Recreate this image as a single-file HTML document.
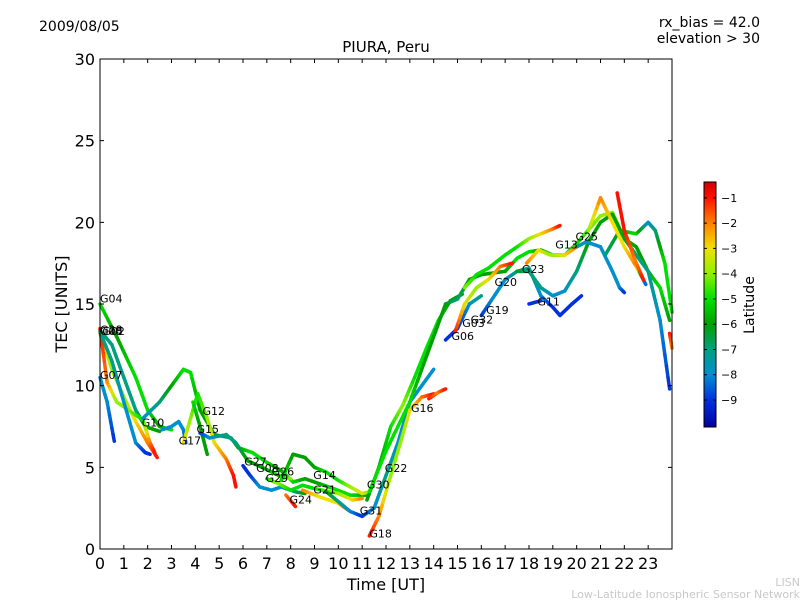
<!DOCTYPE html>
<html><head><meta charset="utf-8"><style>
body{margin:0;background:#fff}
svg{display:block;font-family:"DejaVu Sans","Liberation Sans",sans-serif}
</style></head><body>
<svg id="chart" width="800" height="600" viewBox="0 0 800 600" xmlns="http://www.w3.org/2000/svg">
<defs>
<linearGradient id="cbgrad" x1="0" y1="1" x2="0" y2="0">
<stop offset="0" stop-color="#0000a0"/><stop offset="0.11" stop-color="#0030e0"/><stop offset="0.214" stop-color="#0090d0"/><stop offset="0.317" stop-color="#00a080"/><stop offset="0.42" stop-color="#00a000"/><stop offset="0.523" stop-color="#00e000"/><stop offset="0.626" stop-color="#90f000"/><stop offset="0.73" stop-color="#f0e000"/><stop offset="0.833" stop-color="#ff8000"/><stop offset="0.936" stop-color="#ff1000"/><stop offset="1" stop-color="#d00000"/>
</linearGradient>
</defs>
<text x="39" y="31" font-size="14">2009/08/05</text>
<text x="760" y="27" font-size="14" text-anchor="end">rx_bias = 42.0</text>
<text x="760" y="43" font-size="14" text-anchor="end">elevation &gt; 30</text>
<text x="386" y="52" font-size="15" text-anchor="middle">PIURA, Peru</text>
<text x="386" y="590" font-size="16" text-anchor="middle">Time [UT]</text>
<text x="67" y="304" font-size="16" text-anchor="middle" transform="rotate(-90 67 304)">TEC [UNITS]</text>
<text x="800" y="586" font-size="11" fill="#c8c8c8" text-anchor="end">LISN</text>
<text x="800" y="598" font-size="11" fill="#c8c8c8" text-anchor="end">Low-Latitude Ionospheric Sensor Network</text>
<g id="marks"></g>
<g id="labels"></g>
<rect x="100" y="59" width="572" height="490" fill="none" stroke="#000" stroke-width="1"/>
<g id="axes"></g>
<rect x="704" y="182" width="12" height="245" fill="url(#cbgrad)" stroke="#000" stroke-width="1"/>
<g id="cbticks"></g>
<text x="754" y="305" font-size="14" text-anchor="middle" transform="rotate(-90 754 305)">Latitude</text>
</svg>
<script>
const xTicks=[0,1,2,3,4,5,6,7,8,9,10,11,12,13,14,15,16,17,18,19,20,21,22,23];
const yTicks=[0,5,10,15,20,25,30];
const cbTicks=[-1,-2,-3,-4,-5,-6,-7,-8,-9];
// tracks: [time, tec, latitude]
const trkG04=[[0,15.0,-5],[0.7,13.0,-6],[1.5,10.5,-5],[2.0,8.5,-5],[2.5,7.5,-6],[3.0,7.3,-5]];
const trkG28=[[0,13.4,-7],[0.5,12.5,-7],[1,10.5,-7],[1.5,8.5,-7],[1.9,7.5,-6],[2.5,7.2,-6]];
const trkYel=[[0,13.2,-2],[0.5,11,-4],[1,9.3,-4],[1.5,7.8,-3],[2,6.5,-2],[2.4,5.6,-1]];
const trkRed=[[0,13.5,-1],[0.3,10.2,-2],[0.7,9.0,-4],[1.2,8.5,-4],[1.8,7.9,-5],[2.1,6.5,-2],[2.3,5.9,-1]];
const trkG07=[[0,10.5,-8],[0.3,9,-8],[0.6,6.6,-9]];
const trkTeal=[[0,13.3,-7],[0.5,11.5,-7],[1,9,-8],[1.5,6.5,-8],[1.9,5.9,-9],[2.1,5.8,-9]];
const trkG10=[[1.8,8.0,-8],[2.5,9,-7],[3.0,10,-6],[3.5,11,-5],[3.8,10.8,-5],[4.2,8.5,-6],[4.8,7.0,-6],[5.5,6.8,-7],[5.8,6.2,-6],[6.4,5.9,-5],[7,5.3,-5],[7.6,4.8,-6],[8.1,4.1,-5],[8.6,4.3,-6],[9.2,4.0,-6],[9.8,3.7,-5],[10.5,3.3,-5],[11.2,3.3,-6]];
const trkG17=[[2.6,7.3,-8],[3.0,7.5,-8],[3.3,7.8,-8],[3.5,7.3,-8],[3.6,6.5,-9]];
const trkG12=[[3.5,6.5,-3],[3.8,8.0,-4],[4.1,9.5,-5],[4.5,8,-4],[4.8,6.5,-3],[5.3,5.5,-2],[5.6,4.5,-1],[5.7,3.8,-1]];
const trkG15a=[[3.9,9.0,-5],[4.2,7.5,-6],[4.5,5.8,-6]];
const trkG15=[[4.2,7.1,-9],[4.6,6.8,-8],[5.3,7.0,-7],[5.7,6.5,-7],[6.2,5.4,-6],[6.8,5.0,-6],[7.5,4.5,-5],[8.0,4.3,-4]];
const trkG27=[[6,5.1,-9],[6.3,4.5,-9],[6.7,3.8,-8],[7.2,3.6,-8],[7.6,3.8,-8],[8.2,3.5,-7],[8.6,3.4,-6]];
const trkG26=[[7,4.3,-5],[7.5,4.0,-4],[8.0,3.6,-5],[8.5,3.9,-5],[9,3.7,-5],[10,3.4,-4],[10.6,3.0,-3],[11.0,3.1,-2]];
const trkG14=[[7.6,4.2,-5],[8.1,5.8,-6],[8.6,5.6,-6],[9,5.0,-6],[9.5,4.7,-5],[10,4.2,-5],[10.5,3.8,-4],[11.0,3.4,-3],[11.3,3.5,-4]];
const trkMain=[[11.3,3.5,-5],[12,6,-5],[12.5,7.5,-5],[13,9,-5],[13.5,11,-6],[14,13,-6],[14.5,15,-6],[15,15.3,-7],[15.5,16.5,-6],[16,16.8,-6],[17,17,-6],[17.5,17.8,-5],[18,18.2,-5],[18.5,18.3,-6],[19,18,-5],[19.5,18,-5],[20,18.7,-5],[21,20.4,-4],[21.5,20.6,-4],[22,19,-5],[22.5,18.5,-6],[23,17,-6],[23.5,16,-5],[23.9,14,-6]];
const trkG24=[[7.8,3.3,-2],[8.2,2.6,-1]];
const trkG21=[[8.5,3.6,-2],[9.2,3.2,-3],[10,2.8,-3],[10.5,2.3,-1]];
const trkG31=[[9.5,3.5,-6],[10,2.9,-7],[10.5,2.3,-8],[11,2.0,-9],[11.5,2.5,-8],[12,4.5,-7],[12.5,6.5,-8],[13,9,-8],[13.5,10,-8],[14,11,-8]];
const trkG22=[[11.2,3.0,-6],[11.7,5.0,-6],[12.2,7.5,-5],[12.7,8.8,-4],[13.2,10.5,-5],[13.7,12.3,-5],[14.2,14.0,-5],[14.7,15.2,-6],[15.2,15.6,-6]];
const trkG18=[[11.3,0.8,-1],[11.7,2,-2],[12.2,4.5,-4],[12.7,7,-4],[13,8.5,-3],[13.5,9.3,-2],[14,9.5,-1]];
const trkG06=[[14.5,12.8,-9],[15,13.5,-9],[15.5,15,-8],[16,15.5,-7]];
const trkG20=[[14.9,13.3,-1],[15.3,15,-3],[15.8,16,-4],[16.3,16.5,-3],[16.8,17.3,-2],[17.3,17.5,-1]];
const trkG19=[[16,14.3,-9],[16.5,15.4,-8],[17,16.5,-8],[17.5,17,-7],[18,17.2,-7],[18.5,15.5,-8],[19,14.8,-9],[19.3,14.3,-9],[19.8,15,-9],[20.2,15.5,-9]];
const trkG23=[[17.5,17,-6],[18,17,-7],[18.5,16,-7],[19,15.5,-8],[19.5,15.8,-8],[20,17,-7],[20.5,18.8,-6],[21,20,-6],[21.5,20.5,-6],[22,19,-6],[22.5,18,-7],[23,17,-7],[23.5,14,-8],[23.9,9.8,-9]];
const trkG13=[[15.3,16,-4],[15.8,16.8,-5],[16.3,17.2,-5],[17,18,-5],[17.5,18.5,-5],[18,19,-4],[18.5,19.3,-3],[19,19.6,-2],[19.3,19.8,-1]];
const trkG23b=[[17.9,17.5,-2],[18.4,18.3,-3],[18.9,18.0,-4],[19.5,18.0,-3],[20,18.5,-2]];
const trkG25=[[20,18.5,-7],[20.4,18.8,-8],[21,18.5,-8],[21.5,17,-8],[21.8,16,-8],[22,15.7,-9]];
const trkRed2=[[21.7,21.8,-1],[22,19.5,-1],[22.5,17.5,-2],[22.8,16.5,-1]];
const trkPeak=[[20.5,19.5,-4],[21,21.5,-2],[21.5,20,-3],[22,18.5,-3],[22.5,17.3,-2],[22.9,16.2,-9]];
const trkRight=[[21.2,18,-7],[21.8,19.5,-6],[22.5,19.3,-5],[23,20,-8],[23.3,19.5,-7],[23.7,17.5,-5],[24,14.5,-5]];
const trkEnd=[[23.9,13.2,-1],[24,12.3,-2]];
const trkG11=[[18,15,-9],[18.5,15.2,-9]];
const trkG16=[[13.8,9.2,-1],[14.2,9.6,-2],[14.5,9.8,-1]];
const tracks=[trkG04,trkG28,trkYel,trkRed,trkG07,trkTeal,trkG10,trkG17,trkG12,trkG15a,trkG15,trkG27,trkG26,trkG14,trkG24,trkG21,trkG31,trkG22,trkG18,trkMain,trkG06,trkG20,trkG19,trkG23,trkG13,trkG23b,trkG25,trkRight,trkPeak,trkRed2,trkEnd,trkG11,trkG16];
const labelNames=["G04","G28","G08","G02","G07","G10","G17","G12","G15","G27","G08","G26","G29","G24","G14","G21","G30","G31","G18","G22","G16","G06","G03","G32","G19","G20","G23","G11","G13","G25"];
const labelTimes=[0,0,0,0.1,0,1.75,3.3,4.3,4.05,6.05,6.55,7.2,6.95,7.95,8.95,8.95,11.2,10.9,11.3,11.95,13.05,14.75,15.2,15.55,16.2,16.55,17.7,18.35,19.1,19.95];
const labelTecs=[15.1,13.2,13.1,13.1,10.4,7.5,6.4,8.2,7.1,5.1,4.7,4.5,4.1,2.8,4.3,3.4,3.7,2.1,0.7,4.7,8.4,12.8,13.6,13.8,14.4,16.1,16.9,14.9,18.4,18.9];

const sx=t=>100+t*(572/24);
const sy=v=>549-v*(490/30);
const latMin=-10.07, latMax=-0.37;
const cbY=l=>427-(l-latMin)/(latMax-latMin)*245;
const stopsL=[-10.07,-9,-8,-7,-6,-5,-4,-3,-2,-1,-0.37];
const stopsC=[[0,0,160],[0,48,224],[0,144,208],[0,160,128],[0,160,0],[0,224,0],[144,240,0],[240,224,0],[255,128,0],[255,16,0],[208,0,0]];
function col(l){
  if(l<=stopsL[0])return 'rgb('+stopsC[0]+')';
  for(let i=1;i<stopsL.length;i++){if(l<=stopsL[i]){const f=(l-stopsL[i-1])/(stopsL[i]-stopsL[i-1]);const a=stopsC[i-1],b=stopsC[i];return 'rgb('+a.map((v,k)=>Math.round(v+(b[k]-v)*f)).join(',')+')';}}
  return 'rgb('+stopsC[stopsC.length-1]+')';
}
const NS='http://www.w3.org/2000/svg';
const marks=document.getElementById('marks');
tracks.forEach((tr,ti)=>{
  const g=document.createElementNS(NS,'g');
  
  
  for(let i=1;i<tr.length;i++){
    const a=tr[i-1],b=tr[i],n=6;
    for(let k=0;k<n;k++){
      const f0=k/n,f1=(k+1)/n;
      const ln=document.createElementNS(NS,'line');
      ln.setAttribute('x1',sx(a[0]+(b[0]-a[0])*f0));ln.setAttribute('y1',sy(a[1]+(b[1]-a[1])*f0));
      ln.setAttribute('x2',sx(a[0]+(b[0]-a[0])*f1));ln.setAttribute('y2',sy(a[1]+(b[1]-a[1])*f1));
      ln.setAttribute('stroke',col(a[2]+(b[2]-a[2])*(f0+f1)/2));
      ln.setAttribute('stroke-width','3.5');ln.setAttribute('stroke-linecap','round');
      
      
      g.appendChild(ln);
    }
  }
  marks.appendChild(g);
});
const labels=document.getElementById('labels');
labelNames.forEach((nm,i)=>{
  const t=document.createElementNS(NS,'text');
  t.setAttribute('x',sx(labelTimes[i]));t.setAttribute('y',sy(labelTecs[i]));
  t.setAttribute('font-size','11');t.textContent=nm;
  
  
  labels.appendChild(t);
});
const axes=document.getElementById('axes');
xTicks.forEach(v=>{
  const x=sx(v);
  const l=document.createElementNS(NS,'path');
  l.setAttribute('d',`M${x} 549v-4M${x} 59v4`);l.setAttribute('stroke','#000');
  
  
  axes.appendChild(l);
  const t=document.createElementNS(NS,'text');
  t.setAttribute('x',x);t.setAttribute('y',569);t.setAttribute('font-size','16');t.setAttribute('text-anchor','middle');t.textContent=v;
  
  
  axes.appendChild(t);
});
yTicks.forEach(v=>{
  const y=sy(v);
  const l=document.createElementNS(NS,'path');
  l.setAttribute('d',`M100 ${y}h4M672 ${y}h-4`);l.setAttribute('stroke','#000');
  
  
  axes.appendChild(l);
  const t=document.createElementNS(NS,'text');
  t.setAttribute('x',95);t.setAttribute('y',y+6);t.setAttribute('font-size','16');t.setAttribute('text-anchor','end');t.textContent=v;
  
  
  axes.appendChild(t);
});
const cbt=document.getElementById('cbticks');
cbTicks.forEach(v=>{
  const y=cbY(v);
  const l=document.createElementNS(NS,'path');
  l.setAttribute('d',`M704 ${y}h3M716 ${y}h-3`);l.setAttribute('stroke','#000');
  
  
  cbt.appendChild(l);
  const t=document.createElementNS(NS,'text');
  t.setAttribute('x',721);t.setAttribute('y',y+4);t.setAttribute('font-size','11');t.textContent='\u2212'+Math.abs(v);
  
  
  cbt.appendChild(t);
});
</script>
</body></html>
